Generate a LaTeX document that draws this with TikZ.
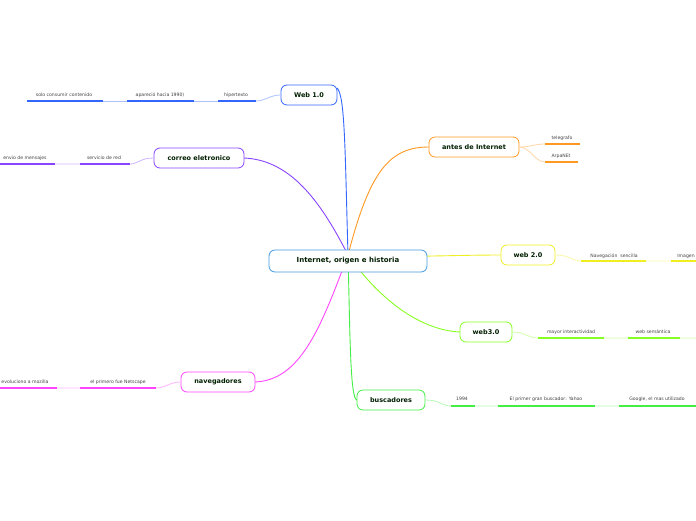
\documentclass[tikz,border=0pt]{standalone}
\usepackage{fontspec}
\setmainfont{DejaVu Sans}
\begin{document}
\begin{tikzpicture}[x=1pt,y=-1pt,
  topic/.style={draw=#1,line width=0.8pt,rounded corners=6pt,fill=white,font=\bfseries\fontsize{6.5}{8}\selectfont,text=black!70!green!40!black,inner sep=0pt},
  leaf/.style={font=\fontsize{4.6}{6}\selectfont,text=black!75},
  ul/.style={draw=#1,line width=1.3pt},
  lk/.style={draw=#1!40,line width=0.8pt},
  br/.style={draw=#1,line width=0.9pt}]
\useasboundingbox (0,0) rectangle (696,520);
\definecolor{cA}{HTML}{3366FF}\definecolor{cB}{HTML}{8844FF}\definecolor{cC}{HTML}{FF44FF}
\definecolor{cD}{HTML}{44EE44}\definecolor{cE}{HTML}{88FF22}\definecolor{cF}{HTML}{EEEE22}
\definecolor{cG}{HTML}{FF9922}\definecolor{cH}{HTML}{4499DD}
% branches
\coordinate (o) at (348,255);
\draw[br=cA] (o) .. controls (345,150) and (345,95) .. (337,88);
\draw[br=cB] (o) .. controls (320,200) and (290,160) .. (244,158);
\draw[br=cC] (o) .. controls (320,330) and (300,380) .. (255,382);
\draw[br=cD] (o) .. controls (350,330) and (350,400) .. (357,400);
\draw[br=cE] (o) .. controls (380,300) and (420,330) .. (460,332);
\draw[br=cF] (o) .. controls (400,258) and (450,255) .. (501,255);
\draw[br=cG] (o) .. controls (370,170) and (390,147) .. (429,147);
\node[topic=cH,minimum width=158pt,minimum height=22pt,font=\bfseries\fontsize{7}{9}\selectfont] (c) at (348,261) {Internet, origen e historia};
\node[topic=cA,minimum width=56pt,minimum height=20pt] (w1) at (309,95) {Web 1.0};
\node[topic=cB,minimum width=90pt,minimum height=20pt] (co) at (199,158) {correo eletronico};
\node[topic=cG,minimum width=90pt,minimum height=20pt] (an) at (474,147) {antes de Internet};
\node[topic=cF,minimum width=54pt,minimum height=20pt] (w2) at (528,255) {web 2.0};
\node[topic=cE,minimum width=52pt,minimum height=20pt] (w3) at (486,332) {web3.0};
\node[topic=cD,minimum width=68pt,minimum height=20pt] (bu) at (391,400) {buscadores};
\node[topic=cC,minimum width=74pt,minimum height=20pt] (na) at (218,382) {navegadores};
% Web 1.0
\node[leaf] (a1) at (236,95) {hipertexto};
\node[leaf] (a2) at (160,95) {apareció hacia 1990)};
\node[leaf] (a3) at (64,95) {solo consumir contenido};
\draw[lk=cA] (w1.west) .. controls (270,95) and (265,101) .. (256,101);
\draw[lk=cA] (194,101) -- (218,101) (103,101) -- (127,101);
\draw[ul=cA] (218,101) -- (256,101) (127,101) -- (194,101) (27,101) -- (103,101);
% correo
\node[leaf] (b1) at (104,158) {servicio de red};
\node[leaf] (b2) at (25,158) {envio de mensajes};
\draw[lk=cB] (co.west) .. controls (140,158) and (138,164) .. (130,164) (55,164) -- (80,164);
\draw[ul=cB] (80,164) -- (130,164) (0,164) -- (55,164);
% antes
\node[leaf] (g1) at (562,138) {telegrafo};
\node[leaf] (g2) at (561,156) {ArpaNEt};
\draw[lk=cG] (an.east) .. controls (530,147) and (535,144) .. (545,144);
\draw[lk=cG] (an.east) .. controls (530,147) and (535,162) .. (545,162);
\draw[ul=cG] (545,144) -- (580,144) (545,162) -- (578,162);
% web 2.0
\node[leaf] (f1) at (614,256) {Navegación\ \ sencilla};
\node[leaf] (f2) at (686,256) {Imagen};
\draw[lk=cF] (w2.east) .. controls (570,255) and (572,261) .. (581,261) (646,261) -- (671,261);
\draw[ul=cF] (581,261) -- (646,261) (671,261) -- (696,261);
% web3
\node[leaf] (e1) at (571,332) {mayor interactividad};
\node[leaf] (e2) at (653,332) {web semántica};
\draw[lk=cE] (w3.east) .. controls (525,332) and (528,338) .. (538,338) (604,338) -- (628,338) (680,338) -- (696,338);
\draw[ul=cE] (538,338) -- (604,338) (628,338) -- (680,338);
% buscadores
\node[leaf] (d1) at (462,399) {1994};
\node[leaf] (d2) at (546,399) {El primer gran buscador: Yahoo};
\node[leaf] (d3) at (657,399) {Google, el mas utilizado};
\draw[lk=cD] (bu.east) .. controls (440,400) and (442,406) .. (451,406) (475,406) -- (498,406) (595,406) -- (619,406);
\draw[ul=cD] (451,406) -- (475,406) (498,406) -- (595,406) (619,406) -- (696,406);
% navegadores
\node[leaf] (h1) at (118,382) {el primero fue Netscape};
\node[leaf] (h2) at (25,382) {evoluciono a mozilla};
\draw[lk=cC] (na.west) .. controls (170,382) and (165,388) .. (156,388) (57,388) -- (80,388);
\draw[ul=cC] (80,388) -- (156,388) (0,388) -- (57,388);
\end{tikzpicture}
\end{document}
